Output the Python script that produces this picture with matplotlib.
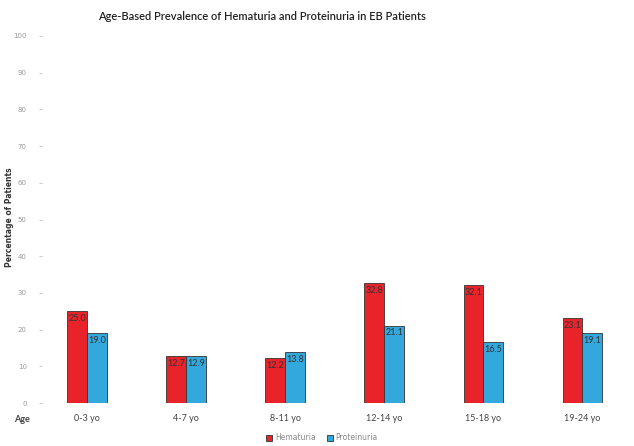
import matplotlib
matplotlib.use("Agg")
import matplotlib.pyplot as plt
import numpy as np

categories = ["0-3 yo", "4-7 yo", "8-11 yo", "12-14 yo", "15-18 yo", "19-24 yo"]
hematuria = [25.0, 12.7, 12.2, 32.8, 32.1, 23.1]
proteinuria = [19.0, 12.9, 13.8, 21.1, 16.5, 19.1]
yticks = list(range(0, 101, 10))

red = "#E8232A"
blue = "#33A8DD"

fig = plt.figure(figsize=(6.34, 4.46), dpi=100)
ax = fig.add_axes([42/634, 1-403/446, (625-42)/634, (403-36)/446])

x = np.arange(len(categories))
w = 0.2
b1 = ax.bar(x - w/2, hematuria, w, color=red, edgecolor="#333333", linewidth=0.6, label="Hematuria")
b2 = ax.bar(x + w/2, proteinuria, w, color=blue, edgecolor="#333333", linewidth=0.6, label="Proteinuria")

for bars, vals in ((b1, hematuria), (b2, proteinuria)):
    for r, v in zip(bars, vals):
        ax.text(r.get_x() + r.get_width()/2, v - 0.8, f"{v:.1f}", ha="center", va="top",
                fontsize=6.5, color="#333333", family="Lato")

ax.set_xlim(-0.455, 5.43)
ax.set_ylim(0, 100)
ax.set_yticks(yticks)
ax.set_yticklabels([str(t) for t in yticks], fontsize=5, color="#999999")
ax.tick_params(axis="y", length=2, color="#cccccc", pad=9)
ax.set_xticks(x)
ax.set_xticklabels(categories, fontsize=6.5, color="#444444", family="Lato")
ax.tick_params(axis="x", length=0, pad=8)
for s in ax.spines.values():
    s.set_visible(False)

fig.text(10/634, 1-217/446, "Percentage of Patients", rotation=90, fontsize=5.5, fontweight="bold",
         color="#333333", ha="center", va="center")
fig.text(22/634, 1-420/446, "Age", fontsize=6.5, color="#444444", ha="center", va="center", family="Lato", fontweight="bold")

fig.text(262/634, 1-17/446, "Age-Based Prevalence of Hematuria and Proteinuria in EB Patients",
         fontsize=8, ha="center", va="center", color="#222222", family="Lato", fontweight="semibold")

leg = fig.legend(handles=[b1, b2], labels=["Hematuria", "Proteinuria"], loc="center",
                 bbox_to_anchor=(322/634, 1-438/446), ncol=2, frameon=False, fontsize=5.5,
                 handlelength=0.8, handleheight=0.8, columnspacing=1.5, handletextpad=0.3)
for t in leg.get_texts():
    t.set_color("#888888")

fig.savefig("out.png", dpi=100, facecolor="white")
